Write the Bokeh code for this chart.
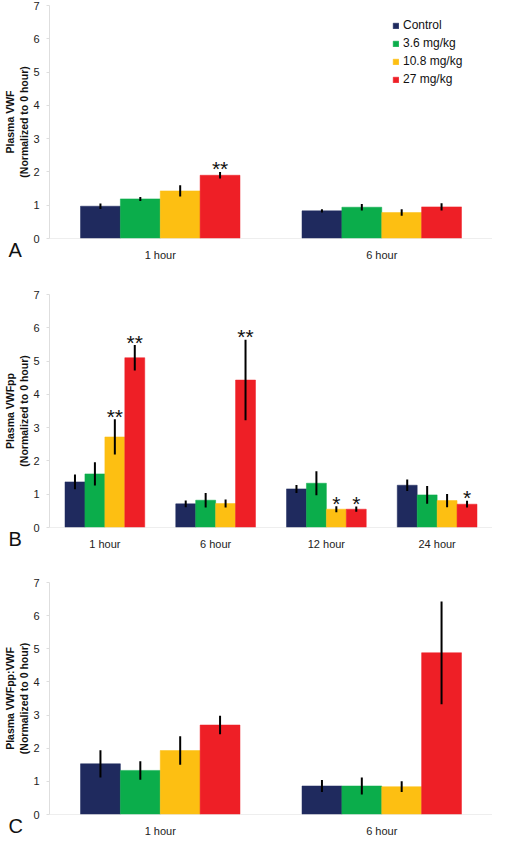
from bokeh.plotting import figure
from bokeh.models import (FactorRange, Range1d, Legend, LegendItem, ColumnDataSource, FixedTicker,
                          Title, CategoricalAxis)
from bokeh.transform import dodge
from bokeh.layouts import column
from bokeh.embed import file_html
from bokeh.resources import INLINE
from bokeh.core.properties import value

doses = ["Control", "3.6 mg/kg", "10.8 mg/kg", "27 mg/kg"]
colors = ["#1F2A5E", "#0BAD4B", "#FDBF12", "#EE1F26"]
y_ticks = [0, 1, 2, 3, 4, 5, 6, 7]

# Panel A: Plasma VWF
hours_A = ["1 hour", "6 hour"]
A_control = [0.97, 0.83]
A_control_err = [0.08, 0.05]
A_d36 = [1.19, 0.94]
A_d36_err = [0.06, 0.10]
A_d108 = [1.43, 0.78]
A_d108_err = [0.17, 0.10]
A_d27 = [1.90, 0.95]
A_d27_err = [0.10, 0.11]
A_sig = [["", ""], ["", ""], ["", ""], ["**", ""]]

# Panel B: Plasma VWFpp
hours_B = ["1 hour", "6 hour", "12 hour", "24 hour"]
B_control = [1.37, 0.71, 1.16, 1.27]
B_control_err = [0.22, 0.10, 0.12, 0.17]
B_d36 = [1.61, 0.82, 1.33, 0.98]
B_d36_err = [0.35, 0.22, 0.36, 0.27]
B_d108 = [2.72, 0.72, 0.55, 0.81]
B_d108_err = [0.53, 0.12, 0.09, 0.20]
B_d27 = [5.10, 4.43, 0.55, 0.70]
B_d27_err = [0.38, 1.21, 0.08, 0.10]
B_sig = [["", "", "", ""], ["", "", "", ""], ["**", "", "*", ""], ["**", "**", "*", "*"]]

# Panel C: Plasma VWFpp:VWF
hours_C = ["1 hour", "6 hour"]
C_control = [1.53, 0.86]
C_control_err = [0.41, 0.18]
C_d36 = [1.33, 0.86]
C_d36_err = [0.28, 0.26]
C_d108 = [1.93, 0.84]
C_d108_err = [0.43, 0.16]
C_d27 = [2.70, 4.88]
C_d27_err = [0.28, 1.55]
C_sig = [["", ""], ["", ""], ["", ""], ["", ""]]

FONT = "Liberation Sans"
BAR_W = 0.18
OFFSETS = [-0.27, -0.09, 0.09, 0.27]
FRAME_H = 233


def make_panel(hours, means, errs, sigs, ylabel, letter, b_top, b_bottom, legend=False):
    p = figure(width=492, height=b_top + FRAME_H + b_bottom, x_range=FactorRange(*hours),
               y_range=Range1d(0, 7), output_backend="svg", toolbar_location=None,
               x_axis_location=None,
               min_border_left=39, min_border_right=0, min_border_top=b_top, min_border_bottom=b_bottom)
    p.outline_line_color = None
    p.xgrid.grid_line_color = None
    p.ygrid.grid_line_color = None

    items = []
    for i in range(4):
        lo = [m - e for m, e in zip(means[i], errs[i])]
        hi = [m + e for m, e in zip(means[i], errs[i])]
        src = ColumnDataSource(dict(hour=hours, top=means[i], lo=lo, hi=hi, sig=sigs[i]))
        xd = dodge("hour", OFFSETS[i], range=p.x_range)
        r = p.vbar(x=xd, top="top", bottom=0, width=BAR_W, source=src,
                   fill_color=colors[i], line_color=colors[i], line_width=0.5)
        p.segment(x0=xd, y0="lo", x1=xd, y1="hi", source=src, line_color="black", line_width=2)
        p.text(x=xd, y="hi", text="sig", source=src, text_align="center", text_baseline="middle",
               text_font=value(FONT), text_font_size="21px", y_offset=-3, text_color="#111111")
        items.append(LegendItem(label=doses[i], renderers=[r]))

    # y axis
    ya = p.yaxis[0]
    ya.axis_line_color = "#dedede"
    ya.major_label_text_font = FONT
    ya.major_label_text_font_size = "11px"
    ya.major_label_text_color = "#222222"
    ya.minor_tick_line_color = None
    ya.ticker = FixedTicker(ticks=y_ticks)
    ya.major_tick_in = 0
    ya.major_tick_out = 3
    ya.major_tick_line_color = "#dedede"
    ya.major_label_standoff = 7
    ya.axis_label = ylabel
    ya.axis_label_text_font = FONT
    ya.axis_label_text_font_style = "bold"
    ya.axis_label_text_font_size = "10.5px"
    ya.axis_label_text_color = "#111111"
    ya.axis_label_standoff = 0

    # panel letter, next to the frame
    p.add_layout(Title(text=letter, align="left", offset=-41, standoff=0, vertical_align="top",
                       text_font=FONT, text_font_size="20px", text_font_style="normal",
                       text_color="#111111"), "below")
    # category labels, pulled up alongside the letter
    xa = CategoricalAxis(axis_line_color=None, major_tick_line_color=None, minor_tick_line_color=None,
                         major_tick_out=0, major_tick_in=0, major_label_standoff=-14,
                         major_label_text_font=FONT, major_label_text_font_size="11px",
                         major_label_text_color="#222222")
    p.add_layout(xa, "below")
    # baseline at y = 0
    xl = CategoricalAxis(fixed_location=0, axis_line_color="#dedede", major_tick_line_color=None,
                         minor_tick_line_color=None, major_label_text_color=None)
    p.add_layout(xl, "below")

    if legend:
        lg = Legend(items=items, location=(343, FRAME_H - 82), glyph_width=7, glyph_height=7,
                    label_text_font=FONT, label_text_font_size="12px", label_text_color="#111111",
                    label_height=16, spacing=2, padding=4, label_standoff=4, margin=0,
                    border_line_color=None, background_fill_alpha=0)
        p.add_layout(lg)
    return p


pA = make_panel(hours_A, [A_control, A_d36, A_d108, A_d27],
                [A_control_err, A_d36_err, A_d108_err, A_d27_err], A_sig,
                "Plasma VWF\n(Normalized to 0 hour)", "A", 5, 28, legend=True)
pB = make_panel(hours_B, [B_control, B_d36, B_d108, B_d27],
                [B_control_err, B_d36_err, B_d108_err, B_d27_err], B_sig,
                "Plasma VWFpp\n(Normalized to 0 hour)", "B", 28, 28)
pC = make_panel(hours_C, [C_control, C_d36, C_d108, C_d27],
                [C_control_err, C_d36_err, C_d108_err, C_d27_err], C_sig,
                "Plasma VWFpp:VWF\n(Normalized to 0 hour)", "C", 27, 24)

layout = column(pA, pB, pC, spacing=0)
open("out.html", "w").write(file_html(layout, INLINE))
